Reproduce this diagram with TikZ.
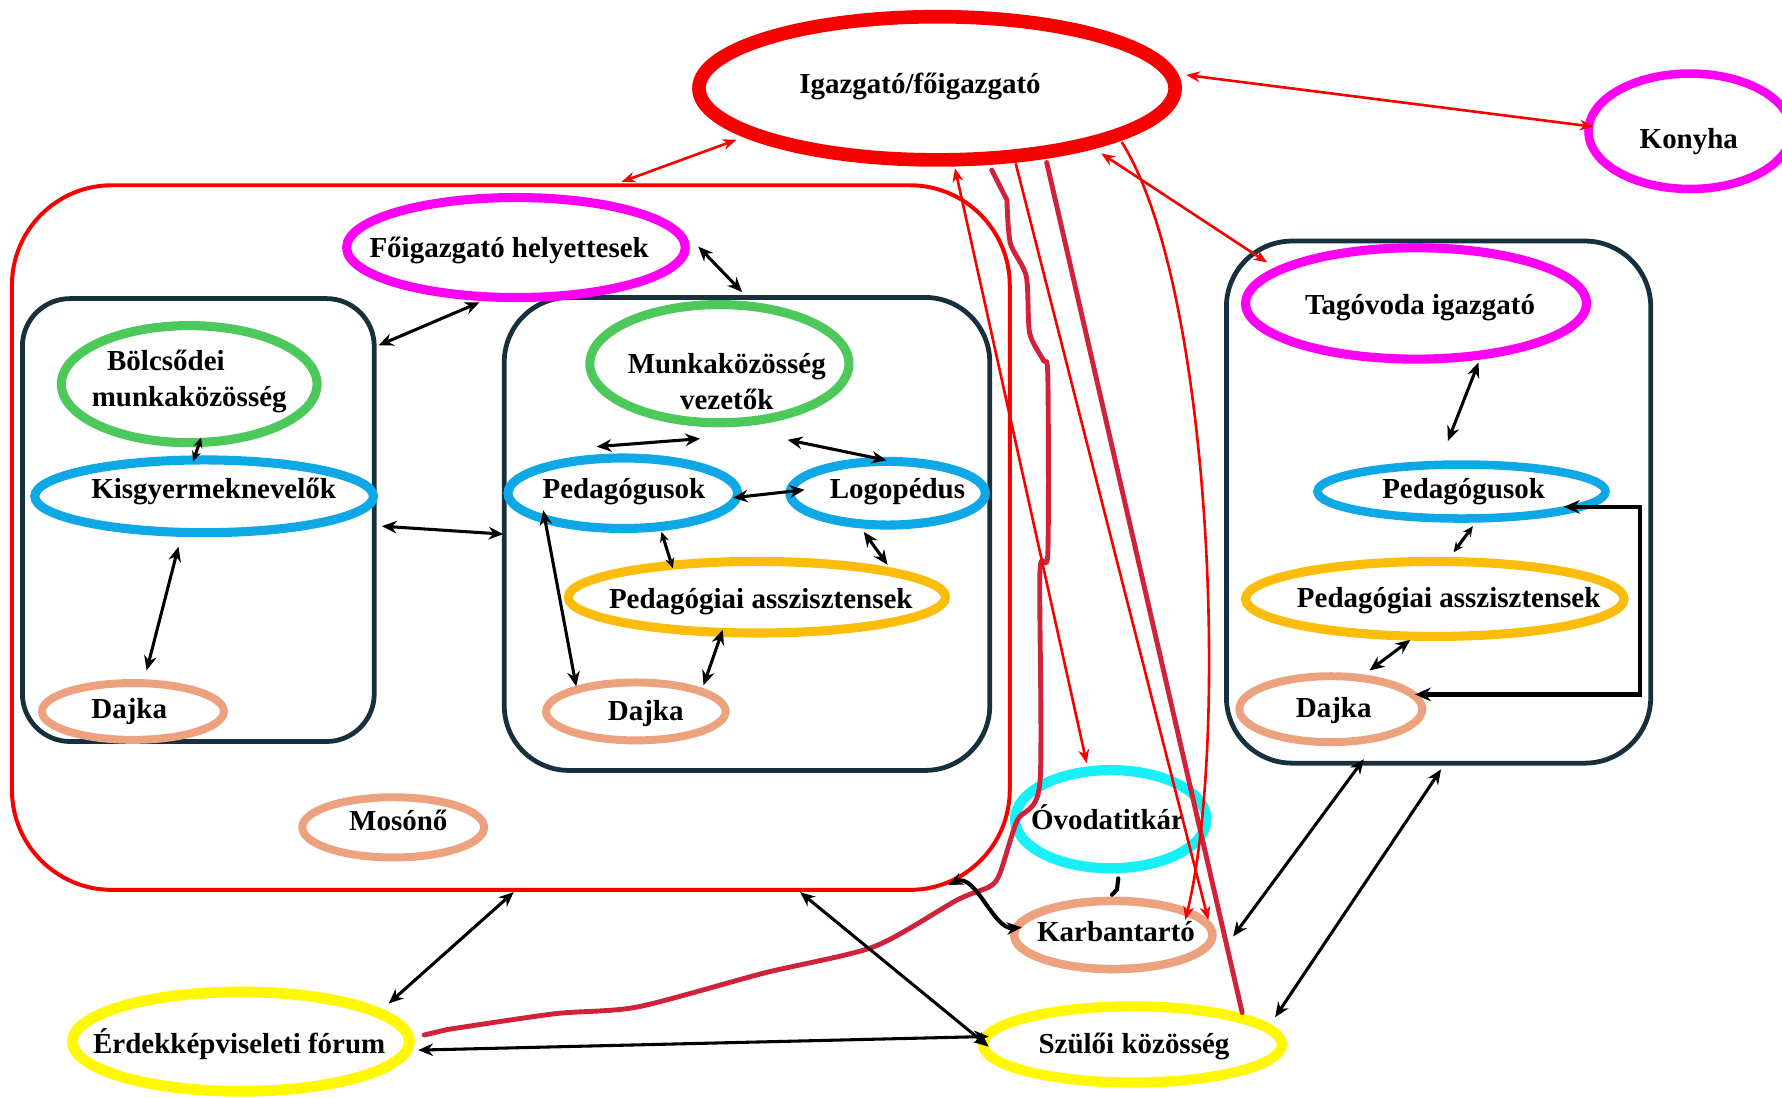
\documentclass[tikz,border=0pt]{standalone}
\usepackage{fontspec}
\setmainfont{Liberation Serif}
\usetikzlibrary{arrows.meta,shapes.geometric}
\definecolor{redc}{HTML}{F80000}
\definecolor{magc}{HTML}{FF00F5}
\definecolor{greenc}{HTML}{4DC85A}
\definecolor{bluec}{HTML}{0EA8E6}
\definecolor{goldc}{HTML}{FCBC0A}
\definecolor{salmonc}{HTML}{ECA17F}
\definecolor{cyanc}{HTML}{18F0F8}
\definecolor{yellowc}{HTML}{FFF800}
\definecolor{navyc}{HTML}{17303E}
\definecolor{crimc}{HTML}{D02238}
\begin{document}
\begin{tikzpicture}[x=1pt,y=-1pt,
  oval/.style={ellipse, draw, inner sep=0pt},
  lbl/.style={font=\fontsize{25.5}{30}\selectfont\bfseries, text height=17pt, text depth=5pt, inner sep=0pt},
  lbltwo/.style={font=\fontsize{25.5}{32}\selectfont\bfseries, align=center, inner sep=0pt},
  frame/.style={rectangle, draw=navyc, line width=4.2pt, inner sep=0pt},
  redlink/.style={draw=redc, line width=2.3pt, >={Stealth[length=12pt,width=9.5pt]}},
  crimlink/.style={draw=crimc, line width=4.3pt, line cap=round, line join=round},
  blklink/.style={draw=black, line width=2.7pt, >={Stealth[length=13pt,width=11pt]}},
  smallhead/.style={>={Stealth[length=9pt,width=8pt]}}
]
\useasboundingbox (0,0) rectangle (1568,966);

% containers
\node[frame, draw=redc, line width=3.5pt, rounded corners=88pt, minimum width=878pt, minimum height=620pt] (redbox) at (449.5,473) {};
\node[frame, rounded corners=42pt, minimum width=309.6pt, minimum height=389.7pt] (boxL) at (174.5,457.6) {};
\node[frame, rounded corners=57pt, minimum width=427.2pt, minimum height=416.2pt] (boxM) at (657.3,469.8) {};
\node[frame, rounded corners=58pt, minimum width=373.4pt, minimum height=459.4pt] (boxR) at (1265.8,441.8) {};

% ovals
\node[oval, draw=redc, line width=12pt, minimum width=419pt, minimum height=126pt,
  label={[lbl,xshift=-15pt,yshift=1.4pt]center:Igazgató/főigazgató}] (igaz) at (824.5,77.7) {};
\node[oval, draw=magc, line width=7.5pt, minimum width=178.6pt, minimum height=101.6pt,
  label={[lbl,xshift=-1pt,yshift=-9.2pt]center:Konyha}] (konyha) at (1487,115.5) {};
\node[oval, draw=magc, line width=8pt, minimum width=298pt, minimum height=88pt,
  label={[lbl,xshift=-6pt,yshift=-3.2pt]center:Főigazgató helyettesek}] (foig) at (454,217.8) {};
\node[oval, draw=magc, line width=8pt, minimum width=300pt, minimum height=98pt,
  label={[lbl,xshift=3.5pt,yshift=-3.6pt]center:Tagóvoda igazgató}] (tago) at (1246,267) {};

\node[oval, draw=greenc, line width=8pt, minimum width=225pt, minimum height=103pt,
  label={[lbltwo,yshift=2.6pt]center:Bölcsődei\hspace*{41pt}\\munkaközösség}] (bolcs) at (166.5,338) {};
\node[oval, draw=bluec, line width=8pt, minimum width=298pt, minimum height=64pt,
  label={[lbl,xshift=8.4pt,yshift=4.2pt]center:Kisgyermeknevelők}] (kisgy) at (179.6,436.7) {};
\node[oval, draw=salmonc, line width=7pt, minimum width=160pt, minimum height=50pt,
  label={[lbl,xshift=-3.3pt]center:Dajka}] (dajkaL) at (117,626) {};

\node[oval, draw=greenc, line width=8pt, minimum width=228pt, minimum height=104pt,
  label={[lbltwo,xshift=6.5pt,yshift=-16pt]center:Munkaközösség\\vezetők}] (munka) at (633,320) {};
\node[oval, draw=bluec, line width=8pt, minimum width=202pt, minimum height=62pt,
  label={[lbl,xshift=1pt,yshift=1.4pt]center:Pedagógusok}] (pedM) at (548,434) {};
\node[oval, draw=bluec, line width=8pt, minimum width=172pt, minimum height=56pt,
  label={[lbl,xshift=8.7pt,yshift=1.4pt]center:Logopédus}] (logo) at (781,434) {};
\node[oval, draw=goldc, line width=8pt, minimum width=332pt, minimum height=63pt,
  label={[lbl,xshift=3.4pt,yshift=-3.9pt]center:Pedagógiai asszisztensek}] (asszM) at (666,525.5) {};
\node[oval, draw=salmonc, line width=7pt, minimum width=158pt, minimum height=51pt,
  label={[lbl,xshift=8.7pt,yshift=-1.6pt]center:Dajka}] (dajkaM) at (559.5,626) {};
\node[oval, draw=salmonc, line width=7pt, minimum width=160pt, minimum height=53pt,
  label={[lbl,xshift=4.5pt,yshift=3.5pt]center:Mosónő}] (moso) at (346,728) {};

\node[oval, draw=bluec, line width=7.5pt, minimum width=253.5pt, minimum height=47.5pt,
  label={[lbl,xshift=1.8pt]center:Pedagógusok}] (pedR) at (1286,432.5) {};
\node[oval, draw=goldc, line width=8pt, minimum width=333pt, minimum height=66pt,
  label={[lbl,xshift=12.2pt,yshift=-1.1pt]center:Pedagógiai asszisztensek}] (asszR) at (1262.5,527) {};
\node[oval, draw=salmonc, line width=7pt, minimum width=161pt, minimum height=58pt,
  label={[lbl,xshift=2.5pt,yshift=-1pt]center:Dajka}] (dajkaR) at (1171,624) {};

\node[oval, draw=cyanc, line width=9pt, minimum width=168.4pt, minimum height=86.4pt,
  label={[lbl,xshift=-2.9pt,yshift=-3.2pt]center:Óvodatitkár}] (titkar) at (977.4,720.8) {};
\node[oval, draw=salmonc, line width=7.5pt, minimum width=174.5pt, minimum height=60pt,
  label={[lbl,xshift=2.4pt]center:Karbantartó}] (karb) at (979.6,822.7) {};
\node[oval, draw=yellowc, line width=9.5pt, minimum width=296.5pt, minimum height=87.5pt,
  label={[lbl,xshift=-1.5pt,yshift=-4.5pt]center:Érdekképviseleti fórum}] (erdek) at (212,916.5) {};
\node[oval, draw=yellowc, line width=9pt, minimum width=263pt, minimum height=67pt,
  label={[lbl,xshift=1.3pt,yshift=-2pt]center:Szülői közösség}] (szuloi) at (996.5,919) {};

\coordinate (elb) at (1443,530);

% crimson hand-drawn lines
\draw[crimlink] ([shift={(161.2,-5.8)}]erdek.center) -- plot[smooth, tension=0.45] coordinates {(393,906) (488,892) (561,886) (673,856) (769,833) (842,792) (871,780) (880,768) (895,722) (915,689) (915,504) (922,487) (922,331) (918,317) (906,293) (903,243) (889,214) (886,176)} -- ([shift={(48.1,71.9)}]igaz.center);
\draw[crimlink] ([shift={(96.5,-28)}]szuloi.center) -- ([shift={(96.5,65.3)}]igaz.center);

% red connectors
\draw[redlink,<->] ([shift={(219.3,-11.7)}]igaz.center) -- ([shift={(-85,-4)}]konyha.center);
\draw[redlink,<->] ([shift={(-176.5,45.3)}]igaz.center) -- ([shift={(97.5,-313)}]redbox.center);
\draw[redlink,<->] ([shift={(144.5,57.3)}]igaz.center) -- ([shift={(-131,-36)}]tago.center);
\draw[redlink,<->] ([shift={(15.8,70.3)}]igaz.center) -- ([shift={(-21.2,-49.2)}]titkar.center);
\draw[redlink,->] ([shift={(69.2,66)}]igaz.center) -- ([shift={(83.6,-13.2)}]karb.center);
\draw[redlink,->] ([shift={(162.5,47.3)}]igaz.center) .. controls (1066,250) and (1082,650) .. ([shift={(63.4,-13.2)}]karb.center);

% black connectors
\draw[blklink,<->] ([shift={(-32,48.2)}]foig.center) -- ([shift={(158.5,-153.6)}]boxL.center);
\draw[blklink,<->] ([shift={(160.5,-0.8)}]foig.center) -- ([shift={(-4.3,-212.8)}]boxM.center);
\draw[blklink,smallhead,<->] ([shift={(10.5,47)}]bolcs.center) -- ([shift={(-9.6,-30.7)}]kisgy.center);
\draw[blklink,<->] ([shift={(-22.6,44.3)}]kisgy.center) -- ([shift={(12,-36)}]dajkaL.center);
\draw[blklink,<->] ([shift={(161.5,5.4)}]boxL.center) -- ([shift={(-214.3,0.2)}]boxM.center);
\draw[blklink,<->] ([shift={(-17,66)}]munka.center) -- ([shift={(-23,-41)}]pedM.center);
\draw[blklink,<->] ([shift={(60,67)}]munka.center) -- ([shift={(-1,-29)}]logo.center);
\draw[blklink,<->] ([shift={(97,4)}]pedM.center) -- ([shift={(-73,-3)}]logo.center);
\draw[blklink,smallhead,<->] ([shift={(34,34)}]pedM.center) -- ([shift={(-74,-25.5)}]asszM.center);
\draw[blklink,<->] ([shift={(-21,34)}]logo.center) -- ([shift={(115,-28.5)}]asszM.center);
\draw[blklink,<->] ([shift={(-70,15)}]pedM.center) -- ([shift={(-52.5,-22)}]dajkaM.center);
\draw[blklink,<->] ([shift={(-30,28.5)}]asszM.center) -- ([shift={(59.5,-23)}]dajkaM.center);
\draw[blklink,<->] ([shift={(55,52)}]tago.center) -- ([shift={(-12,-44.5)}]pedR.center);
\draw[blklink,smallhead,<->] ([shift={(10,30.5)}]pedR.center) -- ([shift={(16.5,-41)}]asszR.center);
\draw[blklink,<->] ([shift={(-21.5,36)}]asszR.center) -- ([shift={(34,-34)}]dajkaR.center);
\draw[blklink,line width=3.9pt,>={Stealth[length=14pt,width=12pt]},<->] ([shift={(90,13.5)}]pedR.center) -| (elb) |- ([shift={(74,-13)}]dajkaR.center);
\draw[blklink,<->] ([shift={(2.5,312)}]redbox.center) -- ([shift={(130,-33.5)}]erdek.center);
\draw[blklink,<->] ([shift={(254.5,312)}]redbox.center) -- ([shift={(-126.5,2)}]szuloi.center);
\draw[blklink,<->] ([shift={(156,7.5)}]erdek.center) -- ([shift={(-126.5,-7)}]szuloi.center);
\draw[blklink,<->] ([shift={(-65.8,226.2)}]boxR.center) -- ([shift={(105.4,1.3)}]karb.center);
\draw[blklink,<->] ([shift={(2.2,235.2)}]boxR.center) -- ([shift={(125.5,-24)}]szuloi.center);
\draw[blklink,line width=3.6pt,line cap=round,<->] ([shift={(384.9,305.7)}]redbox.center) .. controls +(24,-11) and +(-25,2) .. ([shift={(-80.6,-6.7)}]karb.center);
\draw[black,line width=3.6pt,line cap=round,line join=round] ([shift={(6.6,52)}]titkar.center) -- ([shift={(5.4,62)}]titkar.center) -- ([shift={(1,66.5)}]titkar.center);
\end{tikzpicture}
\end{document}
